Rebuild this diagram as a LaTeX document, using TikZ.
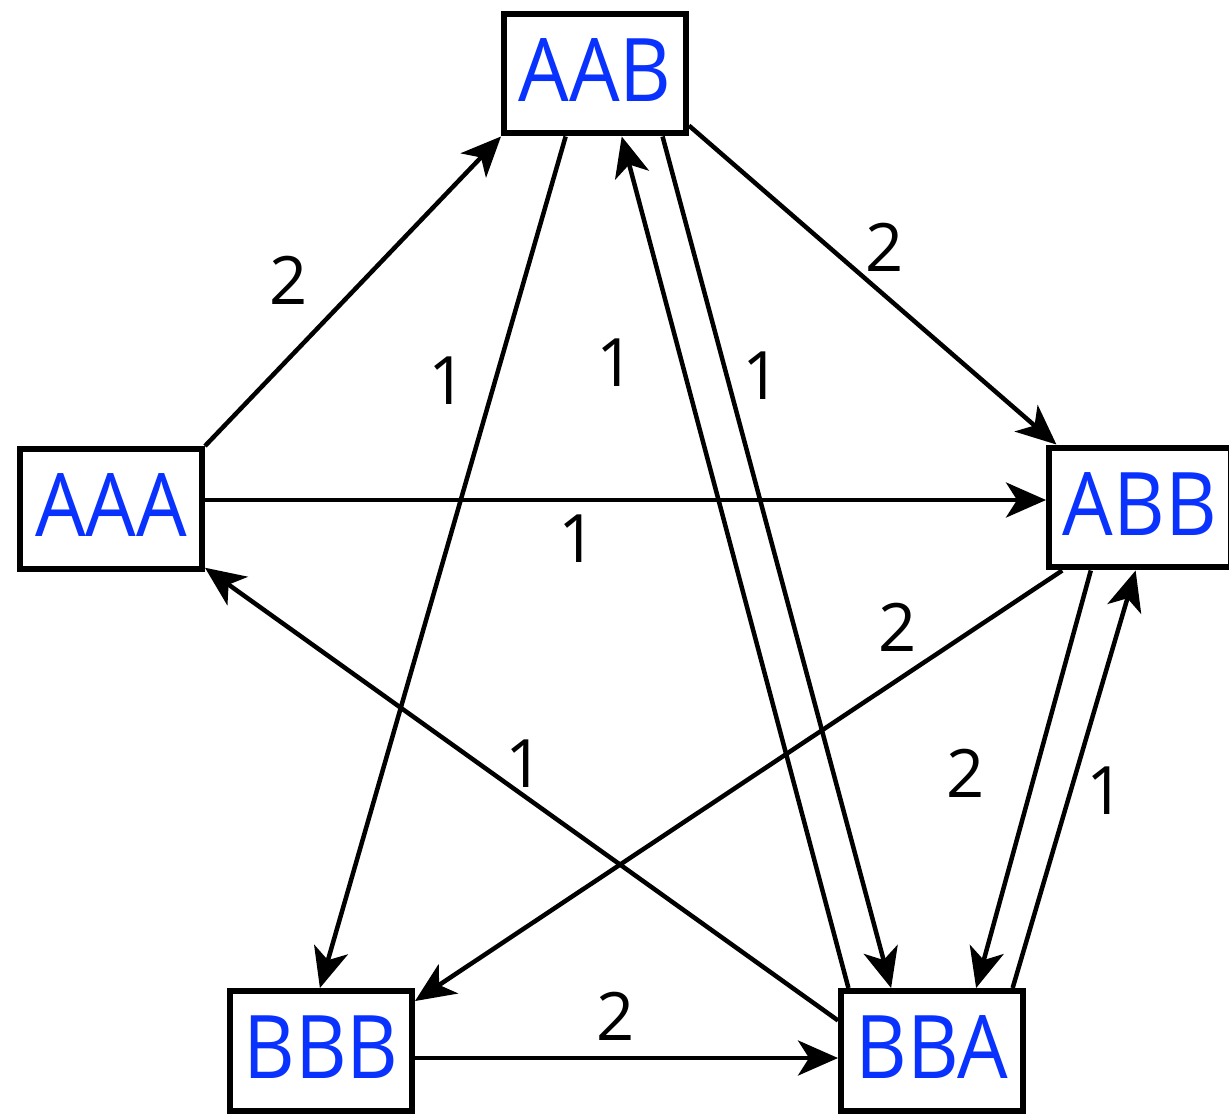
\documentclass[tikz,border=0pt]{standalone}
\usepackage{fontspec}
\setmainfont{Open Sans}
\newfontfamily\statefont{Open Sans}[FakeStretch=0.91]
\usetikzlibrary{arrows.meta,shadows}
\definecolor{stateblue}{RGB}{10,50,255}
\tikzset{
  state/.style={draw=black, line width=0.12cm, fill=white,
    minimum width=3.64cm, minimum height=2.40cm, inner sep=0pt,
    text=stateblue, font=\statefont\fontsize{50}{60}\selectfont,
    drop shadow={shadow xshift=0.04cm, shadow yshift=-0.04cm, opacity=0.3}},
  arr/.style={line width=0.09cm, -{Stealth[length=0.8cm, width=0.7cm, inset=0.22cm]}},
  lbl/.style={font=\fontsize{38}{46}\selectfont, inner sep=0pt}
}
\begin{document}
\begin{tikzpicture}[x=0.02cm, y=-0.02cm]
\useasboundingbox (0,0) rectangle (1229,1115);
\clip (0,0) rectangle (1229,1115);
\node[state] (aab) at (595,73.5) {\raisebox{0.15cm}{AAB}};
\node[state] (aaa) at (111,509) {\raisebox{0.16cm}{AAA}};
\node[state] (abb) at (1140,507.5) {\raisebox{0.15cm}{ABB}};
\node[state] (bbb) at (321,1051) {\raisebox{0.15cm}{BBB}};
\node[state] (bba) at (932,1051) {\raisebox{0.15cm}{BBA}};

\draw[arr] (aaa.north east) -- (aab.south west);
\draw[arr] ([yshift=0.18cm]aaa.east) -- ([yshift=0.18cm]aaa.east -| abb.west);
\draw[arr] (aab.-115.3) -- (bbb.91);
\draw[arr] (aab.-29.2) -- (abb.143);
\draw[arr] (aab.-43.5) -- (bba.123.7);
\draw[arr] (bba.143.1) -- (aab.-67);
\draw[arr] (abb.-141.3) -- (bbb.28.5);
\draw[arr] (bba.162.9) -- (aaa.-32);
\draw[arr] (abb.-128.9) -- (bba.55.7);
\draw[arr] (bba.38.2) -- (abb.-94.4);
\draw[arr] ([yshift=-0.14cm]bbb.east) -- ([yshift=-0.14cm]bbb.east -| bba.west);

\node[lbl] (l1) at (289,280) {2};
\node[lbl] (l2) at (448,381) {1};
\node[lbl] (l3) at (616,363) {1};
\node[lbl] (l4) at (762,376) {1};
\node[lbl] (l5) at (885,247) {2};
\node[lbl] (l6) at (578,539) {1};
\node[lbl] (l7) at (898,627) {2};
\node[lbl] (l8) at (525,764) {1};
\node[lbl] (l9) at (966,773) {2};
\node[lbl] (l10) at (1106,791) {1};
\node[lbl] (l11) at (616,1016) {2};
\end{tikzpicture}
\end{document}
